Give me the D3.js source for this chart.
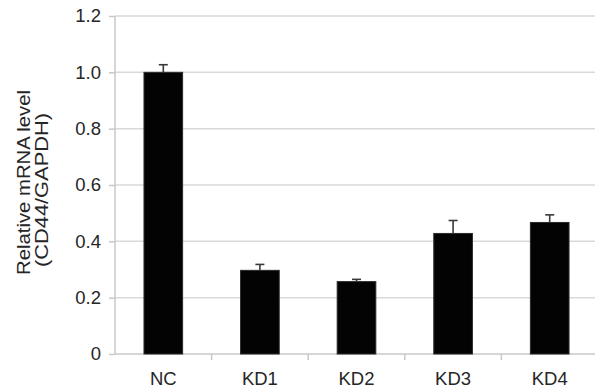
<!DOCTYPE html>
<html><head><meta charset="utf-8">
<script src="https://cdn.jsdelivr.net/npm/d3@7"></script>
<style>body{margin:0;background:#fff}svg{display:block}text{font-family:Arial,"Liberation Sans",sans-serif}</style>
</head><body>
<svg id="c" width="595" height="392"></svg>
<script>
const categories = ["NC","KD1","KD2","KD3","KD4"];
const values = [1.0, 0.297, 0.257, 0.428, 0.467];
const errors = [0.027, 0.021, 0.008, 0.046, 0.027];
const yTicks = [0, 0.2, 0.4, 0.6, 0.8, 1.0, 1.2];
const yTickLabels = ["0","0.2","0.4","0.6","0.8","1.0","1.2"];
const yLabelLines = ["Relative mRNA level","(CD44/GAPDH)"];

const svg = d3.select("#c");
const x = d3.scaleBand().domain(categories).range([115, 598]).padding(0);
const y = d3.scaleLinear().domain([0, 1.2]).range([354, 16]);

// gridlines
svg.append("g").selectAll("line").data(yTicks.slice(1)).join("line")
  .attr("x1", 115).attr("x2", 598)
  .attr("y1", d => y(d)).attr("y2", d => y(d))
  .attr("stroke", "#d9d9d9").attr("stroke-width", 1.5);

// y axis
const yAxis = d3.axisLeft(y).tickValues(yTicks).tickSize(6).tickPadding(8)
  .tickFormat((d, i) => yTickLabels[i]);
const gy = svg.append("g").attr("transform", "translate(115,0)").call(yAxis);
gy.select(".domain").attr("stroke", "#c8c8c8").attr("stroke-width", 1.5).attr("d", `M0,${y(1.2)}V${y(0)}`);
gy.selectAll(".tick line").attr("stroke", "#c8c8c8").attr("stroke-width", 1.5);
gy.selectAll(".tick text").attr("font-size", 18.5).attr("fill", "#262626")
  .attr("font-family", "Arial, 'Liberation Sans', sans-serif");

// x axis
const gx = svg.append("g").attr("transform", `translate(0,${y(0)})`);
gx.append("line").attr("x1", 115).attr("x2", 598).attr("y1", 0).attr("y2", 0)
  .attr("stroke", "#c8c8c8").attr("stroke-width", 1.5);
gx.selectAll(".xt").data(categories.slice(1)).join("line").attr("class", "xt")
  .attr("x1", d => x(d)).attr("x2", d => x(d)).attr("y1", 0).attr("y2", 6)
  .attr("stroke", "#c8c8c8").attr("stroke-width", 1.5);
gx.selectAll(".xl").data(categories).join("text").attr("class", "xl")
  .attr("x", d => x(d) + x.bandwidth() / 2).attr("y", 31)
  .attr("text-anchor", "middle").attr("font-size", 18.5).attr("fill", "#262626")
  .text(d => d);

// bars
const bw = x.bandwidth() * 0.4;
const data = categories.map((c, i) => ({c, v: values[i], e: errors[i]}));
svg.append("g").selectAll("rect").data(data).join("rect")
  .attr("x", d => x(d.c) + x.bandwidth() / 2 - bw / 2)
  .attr("y", d => y(d.v)).attr("width", bw).attr("height", d => y(0) - y(d.v))
  .attr("fill", "#030303").attr("stroke", "#2a2a2a").attr("stroke-width", 1);

// error bars
const eg = svg.append("g").attr("stroke", "#3a3a3a").attr("stroke-width", 1.6);
eg.selectAll(".ev").data(data).join("line").attr("class", "ev")
  .attr("x1", d => x(d.c) + x.bandwidth() / 2).attr("x2", d => x(d.c) + x.bandwidth() / 2)
  .attr("y1", d => y(d.v)).attr("y2", d => y(d.v + d.e));
eg.selectAll(".ec").data(data).join("line").attr("class", "ec")
  .attr("x1", d => x(d.c) + x.bandwidth() / 2 - 4.5).attr("x2", d => x(d.c) + x.bandwidth() / 2 + 4.5)
  .attr("y1", d => y(d.v + d.e)).attr("y2", d => y(d.v + d.e));

// y label
const lab = [{t: yLabelLines[0], x: 30, cy: 182.5, len: 185}, {t: yLabelLines[1], x: 48, cy: 190, len: 154}];
svg.append("g").selectAll("text").data(lab).join("text")
  .attr("transform", d => `translate(${d.x},${d.cy}) rotate(-90)`)
  .attr("text-anchor", "middle").attr("font-size", 18).attr("fill", "#262626")
  .attr("textLength", d => d.len).attr("lengthAdjust", "spacingAndGlyphs")
  .text(d => d.t);
</script>
</body></html>
